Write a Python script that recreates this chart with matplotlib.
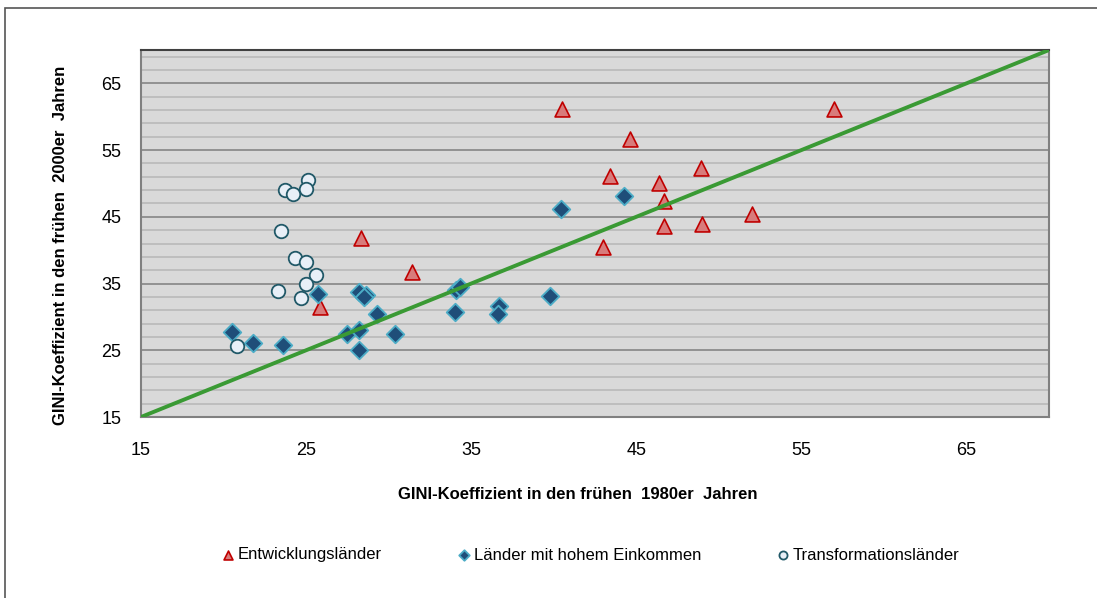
import numpy as np
import matplotlib
matplotlib.use('Agg')
import matplotlib.pyplot as plt
from matplotlib.patches import Rectangle

plt.rcParams['font.family'] = ['Liberation Sans Narrow', 'Liberation Sans', 'DejaVu Sans']

# Entwicklungslaender
dev_x = [40.5, 57.0, 44.6, 48.9, 43.4, 46.4, 46.7, 46.7, 49.0, 52.0, 43.0, 28.35, 31.4, 25.85]
dev_y = [61.1, 61.2, 56.7, 52.3, 51.1, 50.0, 47.3, 43.6, 43.9, 45.4, 40.5, 41.85, 36.7, 31.5]

# Laender mit hohem Einkommen
hi_x = [25.75, 28.2, 28.65, 28.5, 29.3, 20.5, 21.8, 23.6, 27.5, 28.2, 28.2, 30.4,
        34.1, 34.3, 34.0, 36.7, 36.6, 39.8, 40.45, 44.25]
hi_y = [33.5, 33.8, 33.3, 33.0, 30.5, 27.7, 26.1, 25.8, 27.4, 28.1, 25.0, 27.5,
        34.0, 34.5, 30.8, 31.6, 30.4, 33.1, 46.1, 48.1]

# Transformationslaender
tr_x = [25.1, 23.7, 24.2, 25.0, 23.5, 24.3, 25.0, 25.6, 25.0, 23.3, 24.7, 20.8]
tr_y = [50.5, 49.0, 48.4, 49.2, 42.9, 38.9, 38.2, 36.3, 34.9, 33.9, 32.8, 25.6]

diag = [15, 70]
ticks = [15, 25, 35, 45, 55, 65]

fig = plt.figure(figsize=(10.97, 5.98), dpi=100)
ax = fig.add_axes([141/1097, 1 - 417/598, 908/1097, 367/598])
ax.set_facecolor('#d9d9d9')

# rahmen um die ganze grafik
fig.patches.append(Rectangle((5/1097, -0.1), 1.2, 1 - 8/598 + 0.1, transform=fig.transFigure,
                             fill=False, edgecolor='#555555', linewidth=1.2))

ax.set_xlim(15, 70)
ax.set_ylim(15, 70)
ax.set_xticks(ticks)
ax.set_yticks(ticks)
ax.set_yticks(np.arange(17, 70, 2), minor=True)
ax.grid(which='major', axis='y', color='#8c8c8c', linewidth=1.3, zorder=0)
ax.grid(which='minor', axis='y', color='#bcbcbc', linewidth=1.3, zorder=0)
ax.set_axisbelow(True)
ax.tick_params(which='both', length=0)
ax.tick_params(axis='y', pad=14, labelsize=13)
ax.tick_params(axis='x', pad=18, labelsize=13)
for s in ax.spines.values():
    s.set_color('#808080')
    s.set_linewidth(1.5)
ax.spines['top'].set_color('#404040')

ax.scatter(dev_x, dev_y, marker='^', s=115, facecolor='#d87b7b', edgecolor='#c00000',
           linewidth=1.2, zorder=3, label='Entwicklungsländer')
ax.scatter(hi_x, hi_y, marker='D', s=80, facecolor='#1f4e79', edgecolor='#4bacc6',
           linewidth=1.3, zorder=4, label='Länder mit hohem Einkommen')
ax.scatter(tr_x, tr_y, marker='o', s=95, facecolor='#e8eff7', edgecolor='#215968',
           linewidth=1.3, zorder=5, label='Transformationsländer')
ax.plot(diag, diag, color='#3a9a34', linewidth=2.8, zorder=6, solid_capstyle='butt')

ax.set_xlabel('GINI-Koeffizient in den frühen  1980er  Jahren', fontsize=12, fontweight='bold')
ax.set_ylabel('GINI-Koeffizient in den frühen  2000er  Jahren', fontsize=12, fontweight='bold')
ax.xaxis.set_label_coords((578 - 141) / 908, -(487 - 417) / 367)
ax.yaxis.set_label_coords(-(141 - 68) / 908, (417 - 245) / 367)

leg = fig.legend(loc='center', bbox_to_anchor=(591/1097, 1 - 555/598), ncol=3, frameon=False,
                 fontsize=12, markerscale=0.6, handlelength=0.6, handletextpad=0.3,
                 columnspacing=4.6)

fig.savefig('out.png', dpi=100)
